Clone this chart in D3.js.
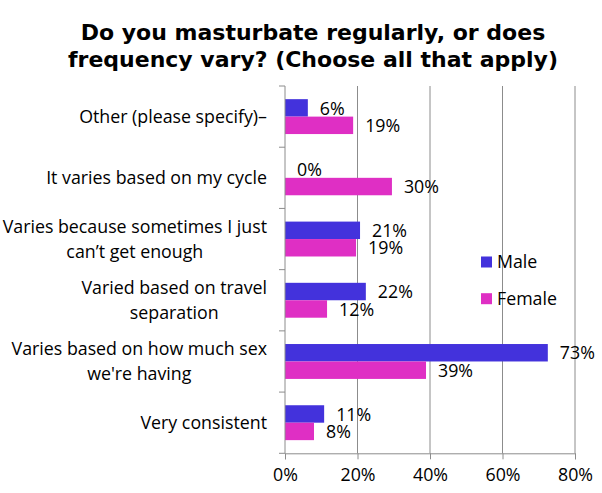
<!DOCTYPE html>
<html>
<head>
<meta charset="utf-8">
<script src="https://cdn.jsdelivr.net/npm/d3@7"></script>
<style>
  body { margin: 0; background: #fff; }
  #chart { width: 602px; height: 493px; }
  text { fill: #000; }
</style>
</head>
<body>
<div id="chart"></div>
<script>
// categories top to bottom, each label split into its lines
const categories = [
    ["Other (please specify)–"],
    ["It varies based on my cycle"],
    ["Varies because sometimes I just", "can’t get enough"],
    ["Varied based on travel", "separation"],
    ["Varies based on how much sex", "we're having"],
    ["Very consistent"]
];
const seriesNames = ["Male", "Female"];
const male = [6.3, 0, 20.7, 22.3, 72.5, 10.8];
const female = [18.8, 29.5, 19.6, 11.6, 38.9, 8.0];
const maleLabels = ["6%", "0%", "21%", "22%", "73%", "11%"];
const femaleLabels = ["19%", "30%", "19%", "12%", "39%", "8%"];
const xTicks = [0, 20, 40, 60, 80];
const titleLines = ["Do you masturbate regularly, or does", "frequency vary? (Choose all that apply)"];

const colors = { Male: "#4332dc", Female: "#df2fc4" };

var width = 602, height = 493;
var svg = d3.select("#chart").append("svg")
    .attr("width", width)
    .attr("height", height);

var font = "'Open Sans', sans-serif";
var fs = 17.8;

// rows built from the arrays
var rows = categories.map(function (c, i) {
    return { idx: i, lines: c, Male: male[i], Female: female[i],
             labels: { Male: maleLabels[i], Female: femaleLabels[i] } };
});

var xScale = d3.scaleLinear().domain([0, 80]).range([285, 575]);
var yScale = d3.scaleBand()
    .domain(d3.range(categories.length))
    .range([86, 453.3])
    .paddingInner(0.43)
    .paddingOuter(0.215);
var ySub = d3.scaleBand().domain(seriesNames).range([0, yScale.bandwidth()]);

// title
svg.append("text")
    .attr("text-anchor", "middle")
    .attr("font-family", "'DejaVu Sans', sans-serif")
    .attr("font-weight", "bold")
    .attr("font-size", 22)
    .selectAll("tspan")
    .data(titleLines)
    .join("tspan")
    .attr("x", 313)
    .attr("y", function (d, i) { return 40 + i * 27; })
    .text(function (d) { return d; });

// gridlines
svg.append("g")
    .selectAll("line")
    .data(xTicks.slice(1))
    .join("line")
    .attr("x1", function (d) { return xScale(d); })
    .attr("x2", function (d) { return xScale(d); })
    .attr("y1", 86)
    .attr("y2", 453.3)
    .attr("stroke", "#8c8c8c")
    .attr("stroke-width", 1);

// bars
var groups = svg.append("g")
    .selectAll("g")
    .data(rows)
    .join("g")
    .attr("transform", function (d) { return `translate(0,${yScale(d.idx)})`; });

groups.selectAll("rect")
    .data(function (d) { return seriesNames.map(function (s) { return { s: s, v: d[s] }; }); })
    .join("rect")
    .attr("x", xScale(0))
    .attr("y", function (d) { return ySub(d.s); })
    .attr("width", function (d) { return xScale(d.v) - xScale(0); })
    .attr("height", ySub.bandwidth())
    .attr("fill", function (d) { return colors[d.s]; });

// data labels
groups.selectAll("text.val")
    .data(function (d) { return seriesNames.map(function (s) { return { s: s, v: d[s], t: d.labels[s] }; }); })
    .join("text")
    .attr("class", "val")
    .attr("x", function (d) { return xScale(d.v) + 12; })
    .attr("y", function (d) { return ySub(d.s) + ySub.bandwidth() - 2; })
    .attr("font-family", font)
    .attr("font-size", fs)
    .text(function (d) { return d.t; });

// x axis
var xAxis = svg.append("g")
    .attr("transform", "translate(0,453.3)")
    .call(d3.axisBottom(xScale).tickValues(xTicks).tickSize(6).tickFormat(function (d) { return d + "%"; }));
xAxis.select(".domain").attr("stroke", "#8c8c8c");
xAxis.selectAll(".tick line").attr("stroke", "#8c8c8c");
xAxis.selectAll(".tick text")
    .attr("font-family", font)
    .attr("font-size", fs)
    .attr("fill", "#000")
    .attr("y", 11)
    .attr("dy", "0.95em");

// y axis line and ticks at band boundaries
var yAxisG = svg.append("g");
yAxisG.append("line")
    .attr("x1", xScale(0)).attr("x2", xScale(0))
    .attr("y1", 86).attr("y2", 453.3)
    .attr("stroke", "#8c8c8c");
var step = yScale.step();
yAxisG.selectAll("line.tk")
    .data(d3.range(categories.length + 1))
    .join("line")
    .attr("class", "tk")
    .attr("x1", xScale(0) - 6).attr("x2", xScale(0))
    .attr("y1", function (i) { return 86 + i * step; })
    .attr("y2", function (i) { return 86 + i * step; })
    .attr("stroke", "#8c8c8c");

// category labels: block right aligned at 267, lines centred on each other
var labelRight = 267;
rows.forEach(function (r) {
    var cy = yScale(r.idx) + yScale.bandwidth() / 2;
    var n = r.lines.length;
    var t = svg.append("text")
        .attr("font-family", font)
        .attr("font-size", fs)
        .attr("text-anchor", n > 1 ? "middle" : "end");
    var spans = t.selectAll("tspan")
        .data(r.lines)
        .join("tspan")
        .attr("y", function (d, i) { return cy + 6.5 + (i - (n - 1) / 2) * 25; })
        .text(function (d) { return d; });
    if (n > 1) {
        var maxW = d3.max(spans.nodes(), function (nd) { return nd.getComputedTextLength(); });
        spans.attr("x", labelRight - maxW / 2);
    } else {
        spans.attr("x", labelRight);
    }
});

// legend
var legend = svg.append("g")
    .selectAll("g")
    .data(seriesNames)
    .join("g")
    .attr("transform", function (d, i) { return `translate(481,${256.5 + i * 36.7})`; });
legend.append("rect")
    .attr("width", 11)
    .attr("height", 11)
    .attr("fill", function (d) { return colors[d]; });
legend.append("text")
    .attr("x", 16)
    .attr("y", 11.5)
    .attr("font-family", font)
    .attr("font-size", fs)
    .text(function (d) { return d; });
</script>
</body>
</html>
